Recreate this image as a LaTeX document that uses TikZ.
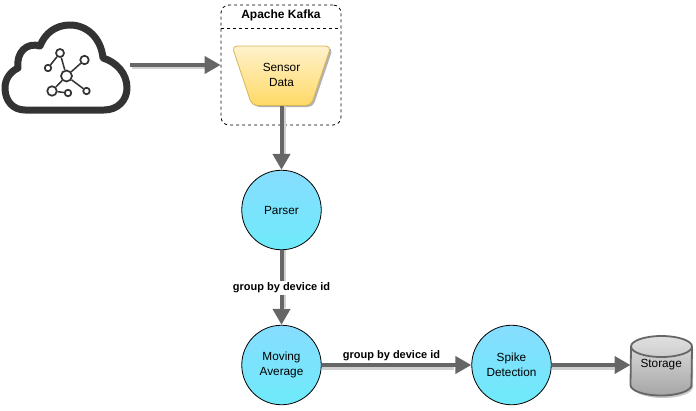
\documentclass[tikz,border=0pt]{standalone}
\usepackage{fontspec}
\setmainfont{Liberation Sans}
\usetikzlibrary{arrows.meta,calc}
\definecolor{flowgray}{HTML}{666666}
\definecolor{flowshadow}{HTML}{D0D0D0}
\definecolor{cyan1}{HTML}{87DDFF}
\definecolor{cyan2}{HTML}{6EEAFA}
\definecolor{cloudgray}{HTML}{333333}
\definecolor{sensor1}{HTML}{FFF2CC}
\definecolor{sensor2}{HTML}{FFD966}
\definecolor{sensorline}{HTML}{D6B656}
\tikzset{
  x=1pt,y=-1pt,
  labeltext/.style={font=\fontsize{11.8}{14.5}\selectfont, align=center, text=black, inner sep=0pt},
  boldlabel/.style={font=\fontsize{11}{13}\selectfont\bfseries, text=black, inner sep=1pt},
  flow/.style={draw=flowgray, line width=4pt, -{Triangle[length=16pt,width=17pt,fill=flowgray]}},
  flowshade/.style={draw=flowshadow, line width=4pt},
  process/.style={circle, draw=black, line width=0.8pt, minimum size=79.5pt, inner sep=0pt,
     top color=cyan1, bottom color=cyan2, labeltext},
  netline/.style={draw=cloudgray, line width=1.5pt},
  netnode/.style={circle, draw=cloudgray, line width=1.7pt, fill=white, inner sep=0pt},
}
\begin{document}
\begin{tikzpicture}
\useasboundingbox (0,0) rectangle (696,410);
% Cloud
\draw[cloudgray, line width=7pt, line join=round, fill=white]
  (25,110) -- (104,110)
  .. controls (118,110) and (127,100) .. (127,88)
  .. controls (127,73) and (116,62) .. (103,58)
  .. controls (101,38) and (87,25) .. (70,25)
  .. controls (56,25) and (45,33) .. (40,46)
  .. controls (27,42) and (16,52) .. (18,68)
  .. controls (10,72) and (5,79) .. (5,88)
  .. controls (5,101) and (13,110) .. (25,110) -- cycle;
\node[netnode, minimum size=11pt] (hub) at (66.5,76) {};
\node[netnode, minimum size=8pt] (n1) at (60,53) {};
\node[netnode, minimum size=8.5pt] (n2) at (84.5,60) {};
\node[netnode, minimum size=6.5pt] (n3) at (48,68) {};
\node[netnode, minimum size=9.5pt] (n4) at (52,91) {};
\node[netnode, minimum size=6.5pt] (n5) at (68,93) {};
\node[netnode, minimum size=6.5pt] (n6) at (86.5,91) {};
\draw[netline] (hub) -- (n1); \draw[netline] (hub) -- (n2); \draw[netline] (hub) -- (n4);
\draw[netline] (hub) -- (n6); \draw[netline] (n1) -- (n3); \draw[netline] (n4) -- (n5);
\coordinate (cloudout) at (130,65);
% Kafka container
\node[draw=black, dashed, line width=0.8pt, rounded corners=8pt, minimum width=120pt, minimum height=120pt, inner sep=0pt] (kafka) at (281,65) {};
\coordinate (kl) at (221,28.5); \coordinate (kr) at (341,28.5);
\draw[black, dashed, line width=0.8pt] (kl) -- (kr);
\node[boldlabel, font=\fontsize{12}{14}\selectfont\bfseries] (kafkatitle) at (281,15.5) {Apache Kafka};
% Sensor trapezoid
\fill[black!30, rounded corners=5pt] (234,48) -- (333,48) -- (313,107) -- (254,107) -- cycle;
\path[draw=sensorline, line width=0.8pt, rounded corners=5pt, top color=sensor1, bottom color=sensor2]
  (232,46) -- (331,46) -- (311,105.5) -- (252,105.5) -- cycle;
\node[labeltext, minimum width=59pt, minimum height=59.5pt] (sensor) at (281.5,75.75) {};
\node[labeltext] (sensortext) at (281.5,75) {Sensor\\Data};
\node[process] (parser) at (281.5,210) {Parser};
\node[process] (moving) at (281.5,365) {Moving\\Average};
\node[process] (spike) at (511.5,365) {Spike\\Detection};
% Storage
\fill[black!22] (633,348) -- (633,387) arc[start angle=180,end angle=360,x radius=30,y radius=-11] -- (693,348) -- cycle;
\path[draw=flowgray, line width=1.8pt, top color=black!12, bottom color=black!35]
  (631,346.5) arc[start angle=180,end angle=0,x radius=30.5,y radius=-10.5]
  -- (691.5,385) arc[start angle=0,end angle=-180,x radius=30.5,y radius=-10.5] -- cycle;
\draw[draw=flowgray, line width=1.8pt] (631,346.5) arc[start angle=180,end angle=360,x radius=30.5,y radius=-10.5];
\node[labeltext, minimum width=61pt, minimum height=40pt] (storage) at (661.2,365) {Storage};
% Connectors
\draw[flowshade] ([shift={(1.5,1.5)}]cloudout) -- ++(75,0);
\draw[flowshade] ([shift={(2.5,0)}]sensor.south) -- ++(0,48);
\draw[flowshade] ([shift={(2.5,0)}]parser.south) -- ++(0,58);
\draw[flowshade] ([shift={(0,2.5)}]moving.east) -- ++(132,0);
\draw[flowshade] ([shift={(0,2.5)}]spike.east) -- ++(62,0);
\draw[flow] (cloudout) -- (kafka.west |- cloudout);
\draw[flow] (sensor.south) -- (parser.north);
\draw[flow] (parser.south) -- (moving.north);
\draw[flow] (moving.east) -- (spike.west);
\draw[flow] (spike.east) -- (storage.west);
% Edge labels
\node[boldlabel, fill=white, inner ysep=2pt] (lab1) at (281.5,288) {group by device id};
\node[boldlabel] (lab2) at (391.5,355.5) {group by device id};
\end{tikzpicture}
\end{document}
